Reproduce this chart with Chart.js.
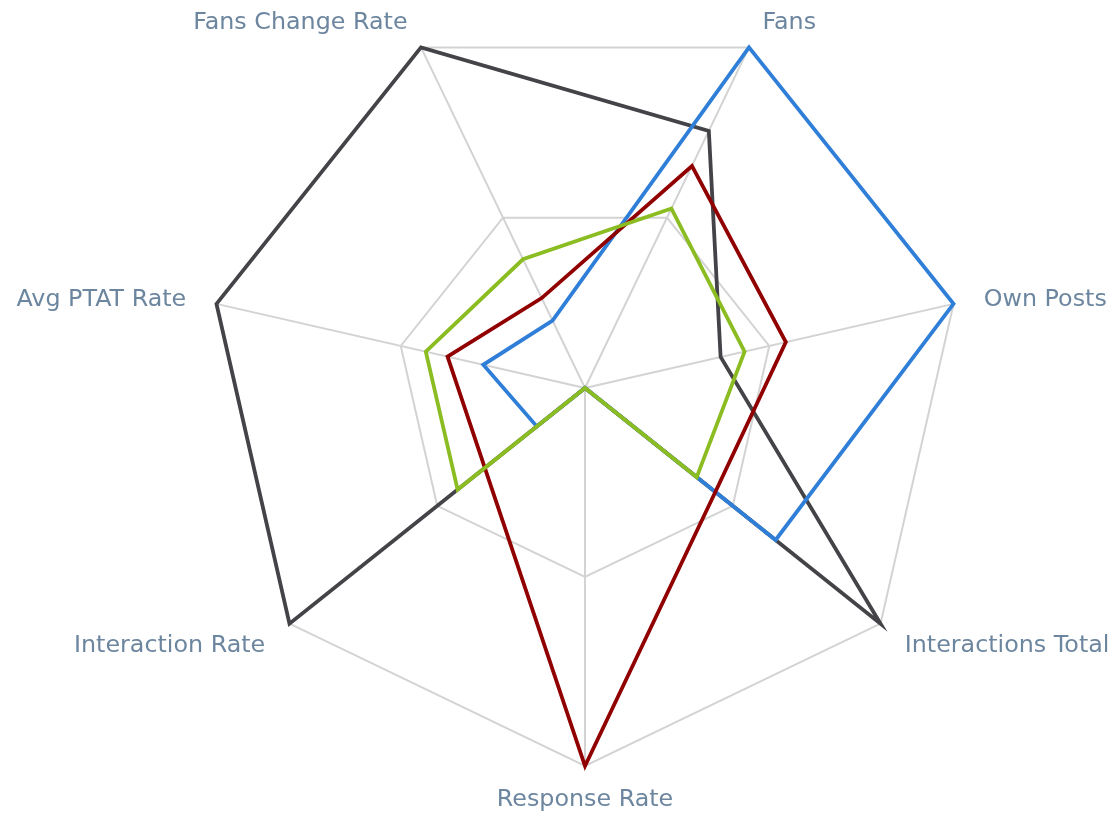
<!DOCTYPE html>
<html>
<head>
<meta charset="utf-8">
<script src="https://cdn.jsdelivr.net/npm/chart.js@4/dist/chart.umd.min.js"></script>
<style>
html,body{margin:0;padding:0;background:#fff;}
#wrap{width:1117px;height:816px;}
</style>
</head>
<body>
<div id="wrap"><canvas id="c" width="1117" height="816"></canvas></div>
<script>
const categories = ["Fans", "Own Posts", "Interactions Total", "Response Rate", "Interaction Rate", "Avg PTAT Rate", "Fans Change Rate"];
const seriesGreen = [0.527, 0.433, 0.378, 0, 0.431, 0.432, 0.378];
const seriesRed   = [0.652, 0.545, 0.441, 1, 0.339, 0.373, 0.264];
const seriesBlue  = [1, 1, 0.645, 0, 0.163, 0.276, 0.198];
const seriesDark  = [0.755, 0.368, 1, 0, 1, 1, 1];
const scaleMin = 0, scaleMax = 1, scaleStep = 0.5;

const LABEL_FONT = '23.8px "DejaVu Sans"';
const LABEL_COLOR = '#6D869F';
const LABEL_GAP = 31;

// Axis labels drawn at the radial scale's own point positions (Highcharts-like placement)
const axisLabelPlugin = {
  id: 'axisLabels',
  afterDraw(chart) {
    const scale = chart.scales.r;
    const ctx = chart.ctx;
    ctx.save();
    ctx.font = LABEL_FONT;
    ctx.fillStyle = LABEL_COLOR;
    ctx.textBaseline = 'middle';
    chart.data.labels.forEach((lbl, i) => {
      const p = scale.getPointPosition(i, scale.drawingArea + LABEL_GAP);
      const dx = p.x - scale.xCenter;
      ctx.textAlign = Math.abs(dx) < 1 ? 'center' : (dx > 0 ? 'left' : 'right');
      ctx.fillText(lbl, p.x, p.y + 3);
    });
    ctx.restore();
  }
};

const mk = (data, color, order) => ({
  data, borderColor: color, backgroundColor: 'rgba(0,0,0,0)', fill: false,
  borderWidth: 3.8, pointRadius: 0, pointHoverRadius: 0, order, tension: 0
});

new Chart(document.getElementById('c'), {
  type: 'radar',
  data: {
    labels: categories,
    datasets: [
      mk(seriesGreen, '#8bbc21', 0),
      mk(seriesRed, '#910000', 1),
      mk(seriesBlue, '#2f7ed8', 2),
      mk(seriesDark, '#434348', 3)
    ]
  },
  plugins: [axisLabelPlugin],
  options: {
    responsive: false,
    animation: false,
    plugins: { legend: { display: false }, tooltip: { enabled: false } },
    layout: { padding: { left: 207, right: 154, top: 10, bottom: 50 } },
    scales: {
      r: {
        min: scaleMin, max: scaleMax,
        startAngle: 360 / 14,
        ticks: { display: false, stepSize: scaleStep },
        grid: { color: '#d3d3d3', lineWidth: 2 },
        angleLines: { color: '#d3d3d3', lineWidth: 2 },
        pointLabels: { display: false }
      }
    }
  }
});
</script>
</body>
</html>
